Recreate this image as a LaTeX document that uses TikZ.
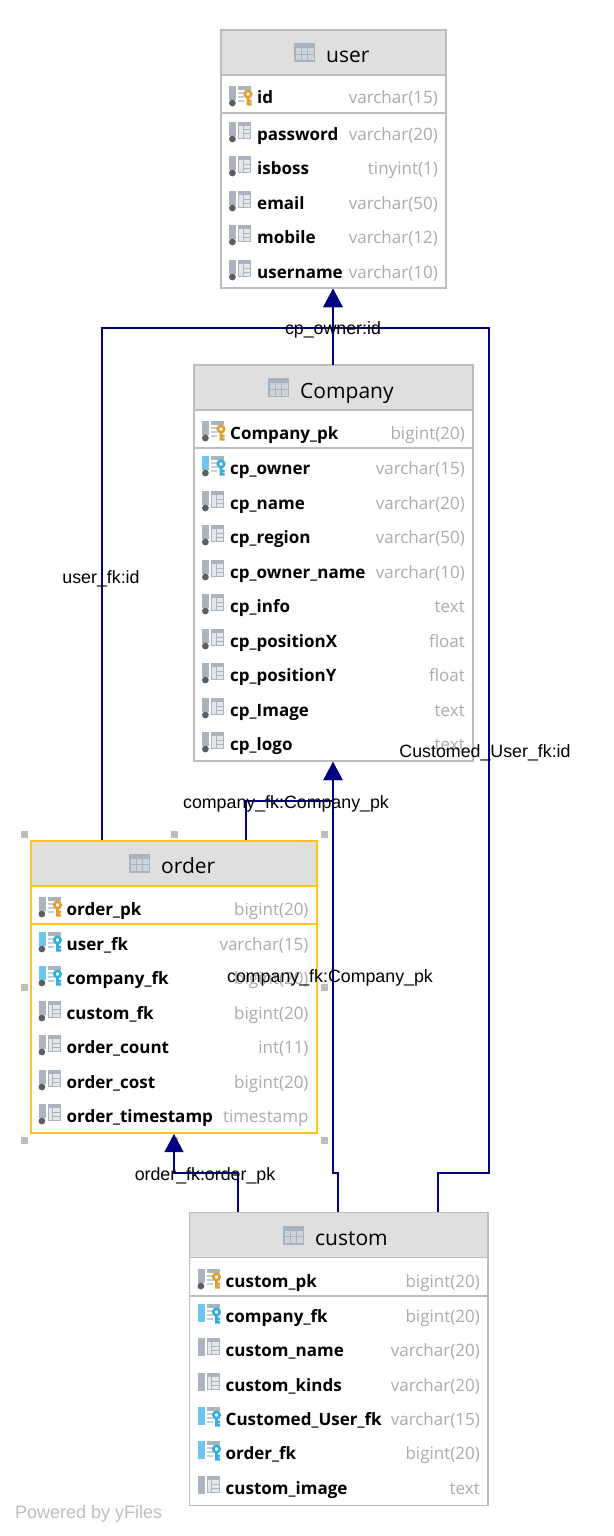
\documentclass[tikz,border=0pt]{standalone}
\usepackage{fontspec}
\setmainfont{Open Sans}
\newfontfamily\edgefont{Liberation Sans}
\usetikzlibrary{arrows.meta}
\definecolor{fkblue}{HTML}{000080}
\definecolor{headgrey}{HTML}{DFDFDF}
\definecolor{rimgrey}{HTML}{BDBDBD}
\definecolor{rimgold}{HTML}{FFC50F}
\definecolor{typegrey}{HTML}{ABABAB}
\definecolor{icongrey}{HTML}{A9B4BE}
\definecolor{celllight}{HTML}{E4E8EB}
\definecolor{dotgrey}{HTML}{5E5E5E}
\definecolor{barblue}{HTML}{6EC6EE}
\definecolor{keyblue}{HTML}{35ADE0}
\definecolor{keygold}{HTML}{E0A02F}
\tikzset{
  dbtable/.style={anchor=north west,inner sep=0,outer sep=0},
  rim rimgrey/.style={line width=1.3},
  rim rimgold/.style={line width=1.7},
  fkline/.style={draw=fkblue,line width=1.2},
  fkarrow/.style={fkline,-{Triangle[length=18,width=19,fill=fkblue]}},
  fklabel/.style={font=\edgefont\fontsize{17.8}{18}\selectfont,text=black,inner sep=0},
  headtext/.style={font=\fontsize{21}{21}\selectfont,anchor=base west,inner sep=0},
  colname/.style={font=\bfseries\fontsize{17}{17}\selectfont,anchor=base west,inner sep=0},
  coltype/.style={font=\fontsize{17}{17}\selectfont,text=typegrey,anchor=base east,inner sep=0},
  handle/.style={fill=rimgrey,minimum size=7,inner sep=0},
}
% header icon
\newcommand{\headicon}[2]{%
  \fill[icongrey] (#1,#2) rectangle ++(21,19);
  \fill[celllight!60!icongrey] (#1+1.5,#2+5) rectangle ++(18,12.5);
  \draw[icongrey,line width=1] (#1+7.5,#2+5) -- ++(0,12.5) (#1+13.5,#2+5) -- ++(0,12.5) (#1+1.5,#2+11.2) -- ++(18,0);
}
% column icons
\newcommand{\iconbar}[3]{%
  \fill[#3] (#1,#2-12) rectangle ++(7,14);
  \fill[dotgrey] (#1+3.4,#2+5) circle (3.4);
}
\newcommand{\icongrid}[2]{%
  \fill[icongrey] (#1+9,#2-12) rectangle ++(13,17);
  \fill[celllight] (#1+10,#2-8) rectangle ++(11,12);
  \draw[icongrey,line width=1] (#1+14,#2-8) -- ++(0,12) (#1+14,#2-4) -- ++(7,0) (#1+14,#2) -- ++(7,0);
}
\newcommand{\iconkey}[3]{%
  \fill[icongrey] (#1+9,#2-12) rectangle ++(13,4);
  \draw[celllight!50!icongrey,line width=1.2] (#1+9,#2-5) -- ++(6,0) (#1+9,#2-1) -- ++(6,0) (#1+9,#2+3) -- ++(6,0);
  \draw[#3,line width=2.6] (#1+19,#2-4) circle (3.2) (#1+19,#2-1) -- ++(0,8.5) (#1+19,#2+3) -- ++(3.5,0) (#1+19,#2+6.3) -- ++(3.5,0);
}
\newcommand{\iconcol}[2]{\iconbar{#1}{#2}{icongrey}\icongrid{#1}{#2}}
\newcommand{\iconpk}[2]{\iconbar{#1}{#2}{icongrey}\iconkey{#1}{#2}{keygold}}
\newcommand{\iconfk}[2]{\iconbar{#1}{#2}{barblue}\iconkey{#1}{#2}{keyblue}}
% same, for nullable columns: no dot
\newcommand{\iconcolopen}[2]{\fill[icongrey] (#1,#2-12) rectangle ++(7,18);\icongrid{#1}{#2}}
\newcommand{\iconfkopen}[2]{\fill[barblue] (#1,#2-12) rectangle ++(7,18);\iconkey{#1}{#2}{keyblue}}
% one table: name, left, top, width, height, rim, icon x, title x, title
\newcommand{\dbbox}[9]{%
  \fill[white] (#2,#3) rectangle ++(#4,#5);
  \fill[headgrey] (#2,#3) rectangle ++(#4,45);
  \node[dbtable,draw=#6,rim #6,minimum width=#4,minimum height=#5] (#1) at (#2,#3) {};
  \draw[#6,rim #6] (#2,#3+45) -- ++(#4,0);
  \draw[#6,line width=2] (#2,#3+83) -- ++(#4,0);
  \headicon{#7}{#3+13}
  \node[headtext] (#1-title) at (#8,#3+33) {#9};
}
\newcommand{\dbrows}[4]{%
  \foreach \rowy/\rowname/\rowtype/\rowkind [count=\rowi] in {#4}{
    \csname icon\rowkind\endcsname{#2+8}{\rowy}
    \node[colname] (#1-\rowi) at (#2+36,\rowy+6) {\rowname};
    \node[coltype] (#1-\rowi-type) at (#2+#3-8,\rowy+6) {\rowtype};
  }
}
\begin{document}
\begin{tikzpicture}[x=1pt,y=-1pt]
\useasboundingbox (0,0) rectangle (613,1536);
% user
\dbbox{user}{221}{30}{225}{258}{rimgrey}{294}{326}{user}
\dbrows{user}{221}{225}{98/id/varchar(15)/pk,134/password/varchar(20)/col,168/isboss/tinyint(1)/col,203/email/varchar(50)/col,237/mobile/varchar(12)/col,272/username/varchar(10)/col}
% Company
\dbbox{Company}{194}{365}{279}{396}{rimgrey}{268}{300}{Company}
\dbrows{Company}{194}{279}{433/Company\_pk/bigint(20)/pk,468/cp\_owner/varchar(15)/fk,503/cp\_name/varchar(20)/col,537/cp\_region/varchar(50)/col,572/cp\_owner\_name/varchar(10)/col,606/cp\_info/text/col,641/cp\_positionX/float/col,675/cp\_positionY/float/col,710/cp\_Image/text/col,744/cp\_logo/text/col}
% order
\dbbox{order}{30.7}{840.7}{286}{292.5}{rimgold}{129}{161}{order}
\dbrows{order}{30.5}{286.2}{909/order\_pk/bigint(20)/pk,944/user\_fk/varchar(15)/fk,978/company\_fk/bigint(20)/fk,1013/custom\_fk/bigint(20)/col,1047/order\_count/int(11)/col,1082/order\_cost/bigint(20)/col,1116/order\_timestamp/timestamp/col}
% custom
\dbbox{custom}{189.5}{1212.7}{298.5}{292.5}{rimgrey}{283}{315}{custom}
\dbrows{custom}{189.5}{298.5}{1281/custom\_pk/bigint(20)/pk,1316/company\_fk/bigint(20)/fkopen,1350/custom\_name/varchar(20)/colopen,1385/custom\_kinds/varchar(20)/colopen,1419/Customed\_User\_fk/varchar(15)/fkopen,1453/order\_fk/bigint(20)/fkopen,1488/custom\_image/text/colopen}
% selection handles
\foreach \hx/\hy [count=\hi] in {24.5/834,174.5/834,324.5/834,24.5/987,324.5/987,24.5/1140,174.5/1140,324.5/1140}
  \node[handle] (handle\hi) at (\hx,\hy) {};
% connectors
\coordinate (userport) at (333,289);
\coordinate (userjoin) at (333,328);
\coordinate (companyport) at (333,762);
\coordinate (companyjoin) at (333,801);
\coordinate (orderport) at (174,1134);
\coordinate (orderjoin) at (174,1173);
\coordinate (companytop) at (333,365);
\coordinate (orderuser) at (102,840);
\coordinate (ordercomp) at (246,840);
\coordinate (customorder) at (238,1212);
\coordinate (customcomp) at (338,1212);
\coordinate (customuser) at (438,1212);
\draw[fkarrow] (companytop) -- (userport);
\draw[fkarrow] (orderuser) |- (userjoin) -- (userport);
\draw[fkarrow] (customuser) |- (489,1173) |- (userjoin) -- (userport);
\draw[fkarrow] (ordercomp) |- (companyjoin) -- (companyport);
\draw[fkarrow] (customcomp) |- (333,1173) -- (companyport);
\draw[fkarrow] (customorder) |- (orderjoin) -- (orderport);
% labels
\node[fklabel] (lbowner) at (333,330) {cp\_owner:id};
\node[fklabel] (lbuser) at (101,579) {user\_fk:id};
\node[fklabel] (lbcustuser) at (485,753) {Customed\_User\_fk:id};
\node[fklabel] (lbordercomp) at (286,804) {company\_fk:Company\_pk};
\node[fklabel] (lbcustcomp) at (330,978) {company\_fk:Company\_pk};
\node[fklabel] (lborder) at (205,1176) {order\_fk:order\_pk};
\node[font=\edgefont\fontsize{18}{18}\selectfont,text=rimgrey,anchor=base west,inner sep=0] (poweredby) at (15,1518) {Powered by yFiles};
\end{tikzpicture}
\end{document}
